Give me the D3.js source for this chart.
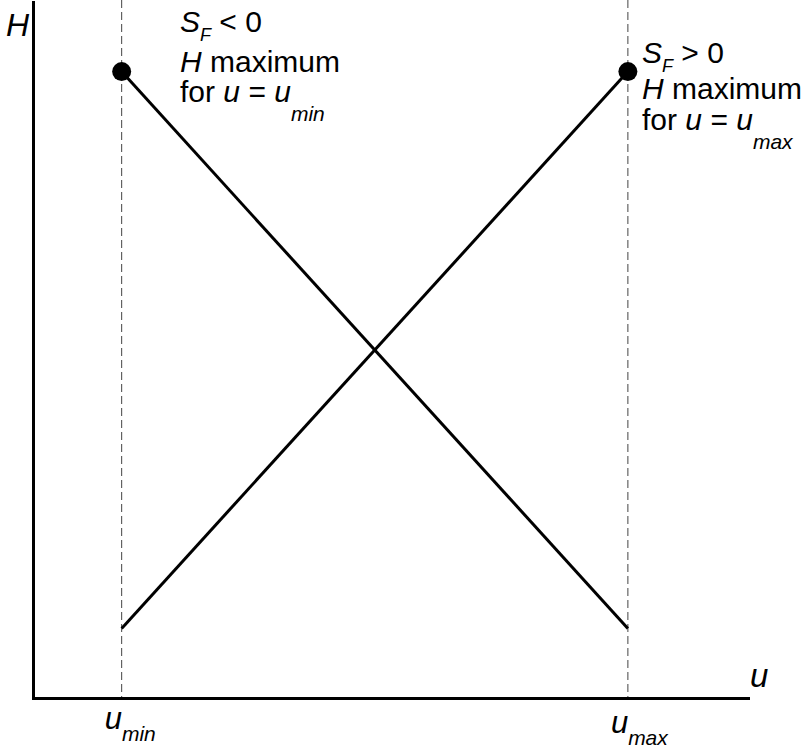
<!DOCTYPE html>
<html>
<head>
<meta charset="utf-8">
<script src="https://cdn.jsdelivr.net/npm/d3@7"></script>
<style>
  body { margin: 0; background: #fff; }
  text { font-family: "Liberation Sans", Arial, sans-serif; fill: #000; }
</style>
</head>
<body>
<div id="chart"></div>
<script>
// values (u and H on a 0..1 scale)
const uTicks = [0.124, 0.832];          // u_min, u_max
const uTickNames = ["min", "max"];
const risingLine = [[0.124, 0.1], [0.832, 0.9]];   // S_F > 0
const fallingLine = [[0.124, 0.9], [0.832, 0.1]];  // S_F < 0
const maxPoints = [[0.124, 0.9], [0.832, 0.9]];
const signs = ["< 0", "> 0"];

const width = 805, height = 750;
const margin = {top: 2, right: 57, bottom: 52, left: 33};

const svg = d3.select("#chart").append("svg")
    .attr("width", width)
    .attr("height", height);

const x = d3.scaleLinear().domain([0, 1]).range([margin.left, width - margin.right]);
const y = d3.scaleLinear().domain([0, 1]).range([height - margin.bottom, margin.top]);

// dashed guides at u_min / u_max
svg.append("g").selectAll("line")
    .data(uTicks)
    .join("line")
    .attr("x1", d => x(d)).attr("x2", d => x(d))
    .attr("y1", 0).attr("y2", y(0))
    .attr("stroke", "#444")
    .attr("stroke-width", 1)
    .attr("stroke-dasharray", "8,4");

// axes, no ticks
const xAxis = svg.append("g")
    .attr("transform", `translate(0,${y(0)})`)
    .call(d3.axisBottom(x).tickValues([]).tickSizeOuter(0));
const yAxis = svg.append("g")
    .attr("transform", `translate(${x(0)},0)`)
    .call(d3.axisLeft(y).tickValues([]).tickSizeOuter(0));
[xAxis, yAxis].forEach(a => a.select(".domain")
    .attr("stroke", "#000")
    .attr("stroke-width", 3)
    .attr("stroke-linecap", "square"));

// the two lines
const line = d3.line().x(d => x(d[0])).y(d => y(d[1]));
svg.selectAll("path.h")
    .data([risingLine, fallingLine])
    .join("path")
    .attr("class", "h")
    .attr("d", line)
    .attr("fill", "none")
    .attr("stroke", "#000")
    .attr("stroke-width", 3);

svg.selectAll("circle")
    .data(maxPoints)
    .join("circle")
    .attr("cx", d => x(d[0]))
    .attr("cy", d => y(d[1]))
    .attr("r", 9.5)
    .attr("fill", "#000");

// rich text helper: segments {t, it, size, dy}
function rich(px, py, segs, size) {
    const t = svg.append("text").attr("x", px).attr("y", py).style("font-size", size + "px");
    let shift = 0;
    segs.forEach(s => {
        const want = s.dy || 0;
        t.append("tspan")
            .attr("dy", want - shift)
            .style("font-style", s.it ? "italic" : "normal")
            .style("font-size", (s.size || size) + "px")
            .text(s.t);
        shift = want;
    });
    return t;
}

// annotation blocks
const blocks = [
    {x: 180, y: [32, 72, 102], sign: signs[0], sub: uTickNames[0]},
    {x: 642, y: [63, 99, 130], sign: signs[1], sub: uTickNames[1]}
];
blocks.forEach(b => {
    rich(b.x, b.y[0], [{t: "S", it: true}, {t: "F", it: true, size: 18, dy: 9}, {t: " " + b.sign}], 30);
    rich(b.x, b.y[1], [{t: "H", it: true}, {t: " maximum"}], 30);
    rich(b.x, b.y[2], [{t: "for "}, {t: "u", it: true}, {t: " = "}, {t: "u", it: true},
        {t: b.sub, it: true, size: 21, dy: 19}], 30);
});

// tick labels u_min / u_max
const tickBase = [729, 733];
uTicks.forEach((u, i) => {
    rich(x(u) - 17, tickBase[i], [{t: "u", it: true, size: 31}, {t: uTickNames[i], it: true, size: 21, dy: 12}], 31);
});

// axis titles
rich(6, 36, [{t: "H", it: true}], 32);
rich(750, 687, [{t: "u", it: true}], 33);
</script>
</body>
</html>
